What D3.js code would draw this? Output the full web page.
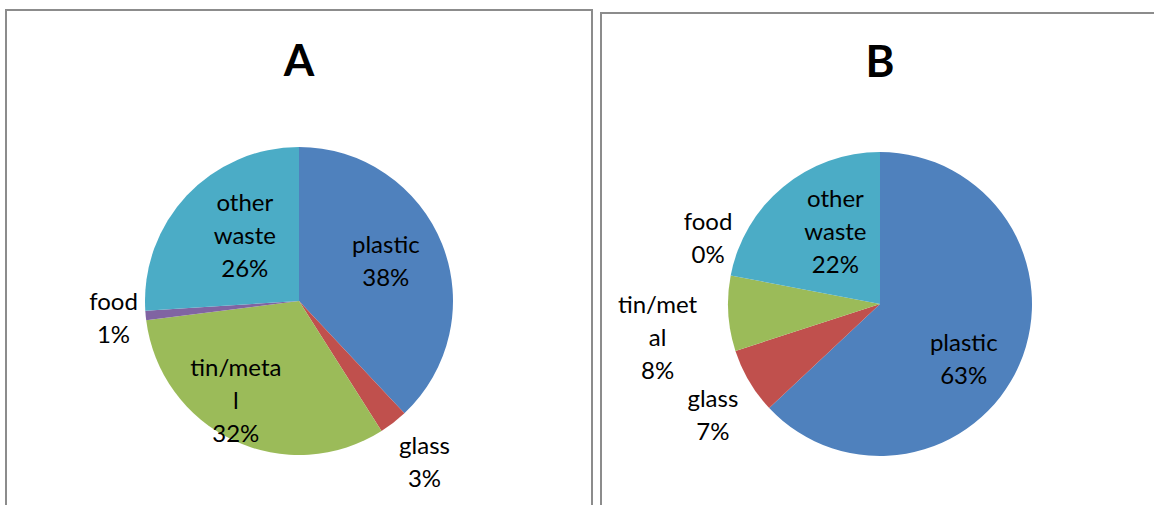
<!DOCTYPE html>
<html>
<head>
<meta charset="utf-8">
<script src="https://cdn.jsdelivr.net/npm/d3@7"></script>
<style>
  body { margin: 0; background: #fff; }
  text { font-family: Lato, "Noto Sans", sans-serif; fill: #000; }
</style>
</head>
<body>
<svg id="chart"></svg>
<script>
// waste composition, percent of items
const categories = ["plastic", "glass", "tin/metal", "food", "other waste"];
const valuesA = [38, 3, 32, 1, 26];
const valuesB = [63, 7, 8, 0, 22];
const titles = ["A", "B"];
const colors = ["#4F81BD", "#C0504D", "#9BBB59", "#8064A2", "#4BACC6"];

const width = 1154, height = 505;
const svg = d3.select("#chart").attr("width", width).attr("height", height);

// panel layout: frame, pie centre/radius, label radius factor + angle nudge (deg)
const panels = [
    {values: valuesA, title: titles[0], box: [6, 10, 586, 520], cx: 299, cy: 301, r: 154, titleY: 76, wrap: 8,
     labels: [[0.62, -3], [1.33, 0], [0.77, 7], [1.21, 0], [0.55, 7]]},
    {values: valuesB, title: titles[1], box: [601, 13, 570, 520], cx: 880, cy: 304, r: 152, titleY: 77, wrap: 7,
     labels: [[0.66, 10], [1.32, -3], [1.48, -5], [1.21, 10], [0.56, 8]]}
];

// split into words, then chop words longer than n chars (like Excel does)
function wrapLabel(name, n) {
    const out = [];
    name.split(" ").forEach(w => {
        while (w.length > n) { out.push(w.slice(0, n)); w = w.slice(n); }
        out.push(w);
    });
    return out;
}

const pie = d3.pie().sort(null).value(d => d.value);
const lineH = 33;

panels.forEach(p => {
    const g = svg.append("g");

    g.append("rect")
        .attr("x", p.box[0]).attr("y", p.box[1])
        .attr("width", p.box[2]).attr("height", p.box[3])
        .attr("fill", "none")
        .attr("stroke", "#8c8c8c")
        .attr("stroke-width", 2);

    g.append("text")
        .attr("x", p.cx).attr("y", p.titleY)
        .attr("text-anchor", "middle")
        .attr("font-size", 44)
        .attr("font-weight", "bold")
        .text(p.title);

    const data = categories.map((c, i) => ({name: c, value: p.values[i], color: colors[i], lab: p.labels[i]}));
    const arcs = pie(data);
    const arc = d3.arc().innerRadius(0).outerRadius(p.r);

    const pg = g.append("g").attr("transform", `translate(${p.cx},${p.cy})`);

    pg.selectAll("path")
        .data(arcs)
        .enter().append("path")
        .attr("d", arc)
        .attr("fill", d => d.data.color);

    const total = d3.sum(p.values);

    pg.selectAll("text.lbl")
        .data(arcs)
        .enter().append("text")
        .attr("class", "lbl")
        .attr("text-anchor", "middle")
        .attr("font-size", 24)
        .each(function(d) {
            const a = (d.startAngle + d.endAngle) / 2 + d.data.lab[1] * Math.PI / 180;
            const rr = p.r * d.data.lab[0];
            const x = Math.sin(a) * rr, y = -Math.cos(a) * rr;
            const lines = wrapLabel(d.data.name, p.wrap);
            lines.push(Math.round(d.data.value / total * 100) + "%");
            const y0 = y - (lines.length - 1) * lineH / 2 + 8;
            d3.select(this).selectAll("tspan")
                .data(lines)
                .enter().append("tspan")
                .attr("x", x)
                .attr("y", (t, i) => y0 + i * lineH)
                .text(t => t);
        });
});
</script>
</body>
</html>
